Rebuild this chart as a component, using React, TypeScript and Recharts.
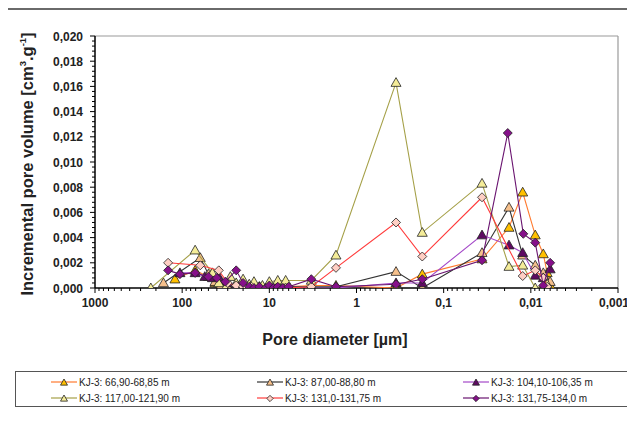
import React from "react";
import {
    ScatterChart,
    Scatter,
    XAxis,
    YAxis,
    ReferenceLine,
} from "recharts";

// pore diameter [um], incremental pore volume [cm3/g]
const kj6690 = [
    [121, 0.0007], [71, 0.0014], [50, 0.0009], [42, 0.0004], [36, 0.0003], [30, 0.0002],
    [24, 0.0001], [20, 0.0002], [16, 0.0001], [13, 0.0001], [10, 0.0001], [8, 0.0002],
    [6.5, 0.0001], [3.3, 0.0002], [1.72, 0.0002], [0.352, 0.0], [0.176, 0.0011],
    [0.0363, 0.0023], [0.0178, 0.0048], [0.0124, 0.0076], [0.0089, 0.0042],
    [0.0072, 0.0027], [0.0065, 0.0012], [0.006, 0.0002],
];
const kj8700 = [
    [164, 0.0004], [62, 0.0024], [50, 0.0011], [42, 0.0005], [36, 0.0002], [30, 0.0001],
    [24, 0.0001], [20, 0.0], [16, 0.0001], [13, 0.0], [10, 0.0001], [8, 0.0],
    [6.5, 0.0001], [3.3, 0.0001], [1.72, 0.0001], [0.352, 0.0013], [0.176, 0.0],
    [0.0363, 0.0028], [0.0178, 0.0064], [0.0124, 0.0026], [0.0089, 0.0018],
    [0.0072, 0.0012], [0.006, 0.0005],
];
const kj10410 = [
    [106, 0.0012], [71, 0.0012], [55, 0.0009], [45, 0.0008], [38, 0.0009], [30, 0.0004],
    [24, 0.0003], [20, 0.0001], [16, 0.0], [13, 0.0001], [10, 0.0], [8, 0.0001],
    [6.5, 0.0], [3.3, 0.0], [1.72, 0.0], [0.352, 0.0004], [0.176, 0.0004],
    [0.0363, 0.0042], [0.0178, 0.0034], [0.0124, 0.0028], [0.0089, 0.001],
    [0.0072, 0.0008], [0.006, 0.0015],
];
const kj11700 = [
    [229, 0.0], [71, 0.003], [45, 0.0012], [38, 0.0004], [32, 0.0], [28, 0.0009],
    [24, 0.0004], [20, 0.0007], [17, 0.0003], [15, 0.0005], [12, 0.0002], [10, 0.0005],
    [8, 0.0006], [6.5, 0.0006], [3.3, 0.0006], [1.72, 0.0026], [0.352, 0.0163],
    [0.176, 0.0044], [0.0363, 0.0083], [0.0178, 0.0017], [0.0124, 0.0018],
    [0.0089, 0.0], [0.0065, 0.0003],
];
const kj13100 = [
    [145, 0.002], [62, 0.0018], [38, 0.0014], [30, 0.0004], [24, 0.0002], [20, 0.0001],
    [16, 0.0001], [13, 0.0], [10, 0.0001], [8, 0.0], [6.5, 0.0], [3.3, 0.0001],
    [1.72, 0.0016], [0.352, 0.0052], [0.176, 0.0025], [0.0363, 0.0072],
    [0.0124, 0.00095], [0.0089, 0.0014], [0.0072, 0.0008], [0.0065, 0.0001],
];
const kj13175 = [
    [145, 0.0014], [106, 0.0011], [71, 0.0012], [50, 0.0009], [40, 0.0008], [32, 0.0005],
    [24, 0.0014], [20, 0.0004], [17, 0.0001], [15, 0.0], [13, 0.0001], [11, 0.0],
    [10, 0.0002], [9, 0.0], [8, 0.0001], [7, 0.0], [6, 0.0001], [3.3, 0.0007],
    [1.72, 0.0001], [0.352, 0.0003], [0.176, 0.0007], [0.0363, 0.0022],
    [0.0184, 0.0123], [0.0122, 0.0043], [0.0089, 0.0036], [0.0072, 0.0002],
    [0.006, 0.002],
];

const xTicks = [1000, 100, 10, 1, 0.1, 0.01, 0.001];
const yTicks = [0, 0.002, 0.004, 0.006, 0.008, 0.01, 0.012, 0.014, 0.016, 0.018, 0.02];
const xMinor = [1, 10, 100, 0.1, 0.01, 0.001].flatMap((d) =>
    [2, 3, 4, 5, 6, 7, 8, 9].map((k) => +(d * k).toPrecision(3))
);
const yMinor = Array.from({ length: 51 }, (_, i) => +(i * 0.0004).toFixed(4)).filter(
    (v) => !yTicks.some((t) => Math.abs(t - v) < 1e-9)
);

const series = [
    { name: "KJ-3: 66,90-68,85 m", data: kj6690, line: "#FF7A2F", fill: "#FFC000", kind: "tri" },
    { name: "KJ-3: 87,00-88,80 m", data: kj8700, line: "#333333", fill: "#F6C08C", kind: "tri" },
    { name: "KJ-3: 104,10-106,35 m", data: kj10410, line: "#A448C8", fill: "#5E0A62", kind: "tri" },
    { name: "KJ-3: 117,00-121,90 m", data: kj11700, line: "#A5A048", fill: "#F4EC98", kind: "tri" },
    { name: "KJ-3: 131,0-131,75 m", data: kj13100, line: "#FF3B3B", fill: "#FFCFC4", kind: "dia" },
    { name: "KJ-3: 131,75-134,0 m", data: kj13175, line: "#6A1470", fill: "#86108A", kind: "dia" },
];

const font = "'Liberation Sans', Arial, sans-serif";

const Marker = ({ cx, cy, kind, fill, size = 5 }: any) => {
    if (cx == null || cy == null) return null;
    const s = size;
    const pts =
        kind === "tri"
            ? `${cx},${cy - s} ${cx + s},${cy + s * 0.75} ${cx - s},${cy + s * 0.75}`
            : `${cx},${cy - s * 0.9} ${cx + s * 0.9},${cy} ${cx},${cy + s * 0.9} ${cx - s * 0.9},${cy}`;
    return <polygon points={pts} fill={fill} stroke="#222" strokeWidth={0.8} />;
};

const isMajorX = (v: number) => xTicks.includes(v);
const isMajorY = (v: number) => yTicks.some((t) => Math.abs(t - v) < 1e-9);

const XTick = ({ x, y, payload }: any) => {
    const major = isMajorX(payload.value);
    return (
        <g>
            <line x1={x} y1={y} x2={x} y2={y + (major ? 5 : 3)} stroke="#000" strokeWidth={1} />
            {major && (
                <text x={x - (payload.value === 0.001 ? 4 : 0)} y={y + 19} textAnchor="middle" fill="#222" fontSize={12} fontWeight="bold" fontFamily={font}>
                    {String(payload.value).replace(".", ",")}
                </text>
            )}
        </g>
    );
};

const YTick = ({ x, y, payload }: any) => {
    const major = isMajorY(payload.value);
    return (
        <g>
            <line x1={x - (major ? 5 : 3)} y1={y} x2={x} y2={y} stroke="#000" strokeWidth={1} />
            {major && (
                <text x={x - 12} y={y + 4.5} textAnchor="end" fill="#222" fontSize={12} fontWeight="bold" fontFamily={font}>
                    {payload.value.toFixed(3).replace(".", ",")}
                </text>
            )}
        </g>
    );
};

export default function App() {
    return (
        <div style={{ position: "relative", width: 635, height: 421, margin: -8, overflow: "hidden", background: "#fff", fontFamily: font }}>
            {/* outer chart frame */}
            <div style={{ position: "absolute", left: 4, top: 8, width: 700, height: 500, borderTop: "2px solid #6a6a6a", borderLeft: "2px solid #6a6a6a" }} />

            <div style={{ position: "absolute", left: 0, top: 0 }}>
                <ScatterChart width={680} height={421} margin={{ top: 36, right: 62, bottom: 103, left: 35 }}>
                    <XAxis
                        type="number"
                        dataKey="d"
                        scale="log"
                        domain={[0.001, 1000]}
                        reversed
                        allowDataOverflow
                        ticks={[...xTicks, ...xMinor]}
                        interval={0}
                        tick={<XTick />}
                        tickLine={false}
                        tickSize={0}
                        tickMargin={0}
                        axisLine={{ stroke: "#000", strokeWidth: 1.5 }}
                        height={30}
                    />
                    <YAxis
                        type="number"
                        dataKey="v"
                        domain={[0, 0.02]}
                        allowDataOverflow
                        ticks={[...yTicks, ...yMinor]}
                        interval={0}
                        tick={<YTick />}
                        tickLine={false}
                        tickSize={0}
                        tickMargin={0}
                        axisLine={{ stroke: "#000", strokeWidth: 1.5 }}
                        width={60}
                    />
                    <ReferenceLine y={0.02} stroke="#9a9a9a" strokeWidth={1.2} />
                    <ReferenceLine x={0.001} stroke="#9a9a9a" strokeWidth={1.2} />
                    {series.map((s) => (
                        <Scatter
                            key={s.name}
                            name={s.name}
                            data={s.data.map(([d, v]) => ({ d, v }))}
                            fill={s.fill}
                            line={{ stroke: s.line, strokeWidth: 1.1 }}
                            lineType="joint"
                            isAnimationActive={false}
                            shape={(p: any) => <Marker cx={p.cx} cy={p.cy} kind={s.kind} fill={s.fill} />}
                        />
                    ))}
                </ScatterChart>
            </div>

            {/* y axis title */}
            <div
                style={{
                    position: "absolute",
                    left: 27,
                    top: 164,
                    transform: "translate(-50%, -50%) rotate(-90deg)",
                    whiteSpace: "nowrap",
                    fontSize: 16.5,
                    fontWeight: "bold",
                    color: "#222",
                }}
            >
                Incremental pore volume [cm<sup style={{ fontSize: 9.5 }}>3</sup>.g<sup style={{ fontSize: 9.5 }}>-1</sup>]
            </div>

            {/* x axis title */}
            <div style={{ position: "absolute", left: 335, top: 340, transform: "translate(-50%, -50%)", whiteSpace: "nowrap", fontSize: 16, fontWeight: "bold", color: "#222" }}>
                Pore diameter [µm]
            </div>

            {/* legend */}
            <div style={{ position: "absolute", left: 15, top: 371, width: 614, height: 36, border: "1px solid #555", boxSizing: "border-box" }}>
                {series.map((s, i) => {
                    const col = i % 3;
                    const row = Math.floor(i / 3);
                    return (
                        <div key={s.name} style={{ position: "absolute", left: 35 + col * 206, top: 4 + row * 16, height: 12, display: "flex", alignItems: "center", fontSize: 10, color: "#222", whiteSpace: "nowrap" }}>
                            <svg width={26} height={12} style={{ marginRight: 2 }}>
                                <line x1={0} y1={6} x2={26} y2={6} stroke={s.line} strokeWidth={1.2} />
                                <Marker cx={13} cy={6.5} kind={s.kind} fill={s.fill} size={3.5} />
                            </svg>
                            {s.name}
                        </div>
                    );
                })}
            </div>
        </div>
    );
}
